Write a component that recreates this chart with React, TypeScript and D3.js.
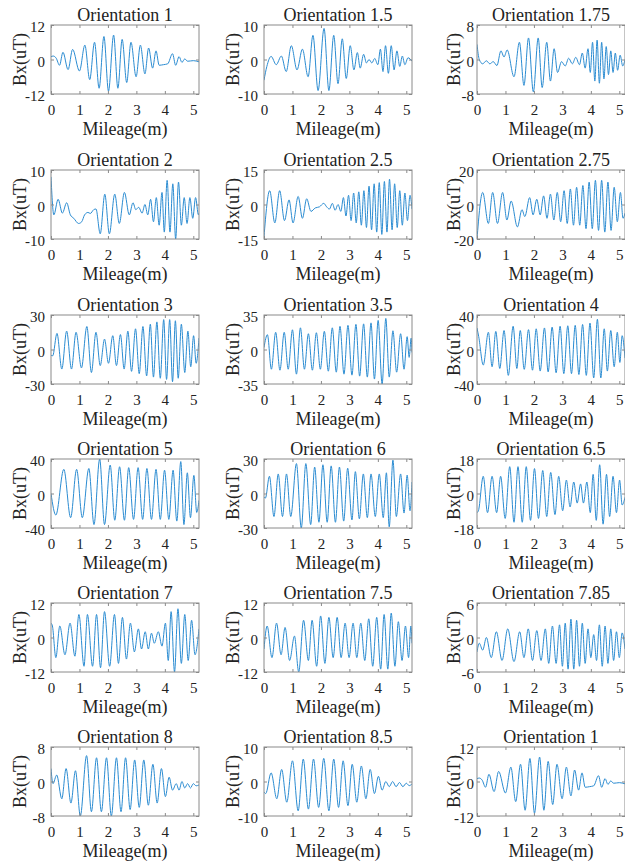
import React, { useEffect, useRef } from 'react';
import * as d3 from 'd3';

// panel titles and y-axis half ranges, row by row
const titles = [
  'Orientation 1', 'Orientation 1.5', 'Orientation 1.75',
  'Orientation 2', 'Orientation 2.5', 'Orientation 2.75',
  'Orientation 3', 'Orientation 3.5', 'Orientation 4',
  'Orientation 5', 'Orientation 6', 'Orientation 6.5',
  'Orientation 7', 'Orientation 7.5', 'Orientation 7.85',
  'Orientation 8', 'Orientation 8.5', 'Orientation 1',
];
const yLimits = [12, 10, 8, 10, 15, 20, 30, 35, 40, 40, 30, 18, 12, 12, 6, 8, 10, 12];
const xTicks = [0, 1, 2, 3, 4, 5];

// Bx(uT) at the peaks and troughs, [mileage, value]
const o1 = [[0,1],[0.08,1.2],[0.18,0.5],[0.3,-2],[0.42,2.5],[0.6,-3.5],[0.76,3.5],[1.0,-4],[1.19,5],[1.36,-7],[1.53,6],[1.69,-10],[1.86,8],[2.02,-11],[2.2,8.5],[2.35,-10],[2.5,7],[2.66,-8],[2.81,6],[2.99,-6],[3.14,5],[3.3,-5],[3.43,4],[3.57,-3],[3.69,3],[3.8,-2],[3.95,-1.8],[4.1,-1.5],[4.27,2],[4.38,-2],[4.5,1],[4.6,-1],[4.7,0.2],[4.8,-0.6],[5.0,-0.4],[5.2,-0.8]];
const o15 = [[0,-6],[0.1,-2],[0.25,0.9],[0.43,-1.5],[0.61,1],[0.78,-3.5],[0.96,4],[1.16,-3],[1.35,3],[1.55,-5],[1.72,7],[1.9,-9],[2.11,9],[2.28,-9],[2.45,7],[2.6,-7],[2.75,6],[2.89,-5.5],[3.03,4],[3.16,-3],[3.28,2],[3.38,-2.5],[3.5,1.5],[3.6,-1],[3.69,0],[3.79,-1],[3.89,0.3],[4.0,-1.5],[4.09,3],[4.18,-3.5],[4.27,4],[4.37,-4],[4.47,4],[4.57,-3],[4.67,2.5],[4.77,-2],[4.86,1],[4.95,-1.5],[5.06,0.5],[5.2,-0.5]];
const o175 = [[0,3.5],[0.08,0],[0.2,-1],[0.33,-0.3],[0.45,-1],[0.57,-0.5],[0.7,-1.4],[0.84,2],[0.95,0.6],[1.06,2.2],[1.3,-4],[1.49,4],[1.65,-6],[1.81,5],[1.98,-7.5],[2.15,5],[2.29,-6.5],[2.45,4],[2.58,-5],[2.71,2.5],[2.83,-3],[2.97,-0.5],[3.1,-1.5],[3.22,0.3],[3.35,-1],[3.47,0.5],[3.6,-1.2],[3.7,1.5],[3.8,-2],[3.9,2.5],[3.98,-3],[4.06,4],[4.14,-5],[4.22,4.5],[4.3,-5.5],[4.38,4],[4.46,-4.5],[4.54,3],[4.62,-3.5],[4.7,2],[4.78,-3],[4.86,1.5],[4.94,-2.5],[5.03,1],[5.12,-1.5],[5.2,0]];
const o2 = [[0,8],[0.1,-3],[0.25,1.5],[0.4,-2.5],[0.55,0.5],[0.68,-3],[0.8,-4],[0.97,-5.5],[1.08,-5],[1.18,-3],[1.3,-2.3],[1.38,-2.6],[1.5,-1.5],[1.58,-1.3],[1.73,-8.5],[1.89,3],[2.05,-8.5],[2.24,3],[2.4,-5.5],[2.58,3.5],[2.75,-3],[2.88,0.5],[2.98,-1.5],[3.08,-0.8],[3.2,-2.5],[3.3,0],[3.4,-3],[3.5,1.5],[3.6,-5],[3.7,2],[3.8,-6],[3.9,3.5],[3.98,-8],[4.08,7],[4.18,-8],[4.28,6],[4.38,-10],[4.48,6.5],[4.58,-6],[4.68,2],[4.78,-5.5],[4.88,2],[4.98,-4],[5.08,2],[5.18,-3],[5.2,-2.5]];
const o25 = [[0,-14],[0.2,6],[0.38,-8],[0.55,6],[0.72,-7],[0.88,2],[1.02,-8],[1.2,3.5],[1.35,-6],[1.5,2.5],[1.65,-3],[1.8,-1.5],[1.95,-1],[2.1,0.5],[2.2,-1],[2.3,-2],[2.4,0.5],[2.5,-2.5],[2.6,0],[2.7,-3],[2.79,3],[2.88,-5],[2.97,4],[3.06,-7],[3.15,5],[3.24,-8],[3.33,5.5],[3.42,-9],[3.51,6],[3.6,-10],[3.69,8],[3.78,-11],[3.87,9],[3.96,-12],[4.05,9.5],[4.14,-13],[4.23,10],[4.32,-12],[4.41,11],[4.5,-11],[4.59,9],[4.68,-10],[4.77,6],[4.86,-9],[4.95,5],[5.04,-7],[5.13,4],[5.2,-2]];
const o275 = [[0,-20],[0.2,7],[0.4,-11],[0.55,7],[0.72,-11],[0.9,7],[1.05,-9],[1.2,2],[1.42,-13],[1.58,-3],[1.68,-7],[1.85,4],[1.97,-6],[2.1,3],[2.22,-6],[2.34,5],[2.46,-8],[2.58,6],[2.7,-9],[2.82,7],[2.94,-10],[3.06,8],[3.17,-11],[3.28,9],[3.39,-12],[3.5,10],[3.61,-12],[3.72,11],[3.83,-14],[3.94,13],[4.05,-14],[4.16,14],[4.27,-15],[4.38,14],[4.49,-16],[4.6,13],[4.71,-15],[4.82,10],[4.93,-10],[5.04,7],[5.13,-8],[5.2,-5]];
const o3 = [[0,-5],[0.06,-5.5],[0.21,14],[0.38,-17],[0.55,16],[0.72,-17],[0.88,15],[1.07,-16],[1.26,20],[1.42,-20],[1.58,15],[1.73,-14],[1.88,9],[2.02,-12],[2.17,12],[2.3,-14],[2.44,13],[2.57,-17],[2.7,16],[2.83,-19],[2.97,18],[3.1,-21],[3.23,20],[3.36,-23],[3.49,22],[3.6,-24],[3.72,24],[3.84,-25],[3.96,26],[4.06,-26],[4.17,26],[4.27,-28],[4.37,25],[4.47,-25],[4.58,22],[4.7,-20],[4.81,16],[4.91,-15],[5.01,12],[5.1,-12],[5.2,10]];
const o35 = [[0,2],[0.12,15],[0.26,-20],[0.41,17.5],[0.56,-21],[0.71,17.5],[0.85,-20],[1.0,20],[1.14,-25],[1.28,22],[1.42,-20],[1.56,16],[1.7,-21],[1.84,17],[1.98,-20],[2.12,18.5],[2.26,-22],[2.4,22],[2.54,-23],[2.67,23.5],[2.81,-25],[2.95,24.5],[3.09,-26],[3.23,25.5],[3.36,-27],[3.5,26],[3.63,-28],[3.76,27],[3.88,-30],[4.01,29.5],[4.15,-35],[4.28,31.5],[4.4,-28],[4.53,19],[4.66,-23],[4.8,16],[4.92,-20],[5.03,13],[5.1,-8],[5.17,11.5],[5.2,-3]];
const o4 = [[0,25],[0.06,15],[0.22,-18],[0.4,20],[0.53,-20],[0.66,21],[0.8,-22],[0.95,22],[1.1,-30],[1.27,27],[1.4,-22],[1.52,22],[1.66,-23],[1.81,23],[1.95,-24],[2.08,24],[2.22,-25],[2.37,25],[2.5,-26],[2.64,26],[2.78,-27],[2.92,27],[3.05,-28],[3.19,27.5],[3.32,-28],[3.45,28],[3.58,-29],[3.71,29],[3.84,-30],[3.97,30.7],[4.1,-33],[4.23,35],[4.35,-33],[4.47,24],[4.58,-25],[4.7,22],[4.82,-20],[4.93,20],[5.02,-15],[5.1,16],[5.2,-10]];
const o5 = [[0,0],[0.17,-25],[0.45,28],[0.69,-28],[0.9,28],[1.1,-28],[1.33,29],[1.51,-36],[1.71,40],[1.88,-36],[2.08,33],[2.24,-31],[2.41,31],[2.58,-31],[2.73,30],[2.9,-30],[3.06,30],[3.22,-30],[3.37,29],[3.53,-30],[3.69,28],[3.84,-30],[3.99,27],[4.14,-30],[4.29,27],[4.42,-32],[4.56,37],[4.67,-36],[4.79,24],[4.9,-28],[5.02,21],[5.12,-22],[5.2,-8]];
const o6 = [[0,-3],[0.05,-4],[0.19,15],[0.35,-20],[0.5,17],[0.65,-20],[0.79,17],[0.94,-20],[1.14,26],[1.31,-30],[1.47,26],[1.64,-27],[1.78,23],[1.93,-25],[2.07,25],[2.22,-25],[2.36,24],[2.51,-25],[2.65,23],[2.8,-24],[2.94,22],[3.09,-23],[3.21,19],[3.35,-22],[3.49,17],[3.63,-21],[3.76,17],[3.91,-20],[4.05,17],[4.19,-21],[4.3,18],[4.4,-29],[4.53,29],[4.65,-20],[4.8,17],[4.92,-17],[5.03,16],[5.13,-15],[5.2,10]];
const o65 = [[0,-10],[0.05,-9],[0.22,9],[0.37,-10],[0.53,9],[0.69,-10],[0.83,9],[0.99,-13],[1.15,14],[1.3,-15],[1.44,14],[1.59,-15],[1.73,14],[1.88,-14],[2.02,13],[2.16,-13],[2.31,12],[2.45,-12],[2.59,11],[2.74,-11],[2.87,9],[3.01,-9],[3.14,7],[3.27,-7],[3.4,6],[3.52,-5],[3.64,5],[3.74,-5],[3.86,6],[3.98,-10],[4.08,10],[4.19,-14],[4.31,15],[4.43,-16],[4.55,10],[4.66,-12],[4.78,9],[4.9,-10],[5.01,7],[5.1,-6],[5.2,-2]];
const o7 = [[0,5],[0.05,4],[0.17,-7],[0.31,4],[0.49,-6],[0.67,5],[0.84,-6.5],[0.98,8],[1.16,-10],[1.28,8],[1.46,-10],[1.6,8],[1.74,-10.5],[1.88,9],[2.06,-10],[2.23,8],[2.37,-9],[2.51,7],[2.65,-7.5],[2.79,5],[2.93,-5],[3.07,3],[3.18,-4],[3.31,2],[3.42,-4],[3.53,1.5],[3.63,-2],[3.77,2],[3.9,-3],[4.02,5],[4.12,-8],[4.22,9],[4.34,-12],[4.46,10],[4.58,-9],[4.7,8],[4.82,-8],[4.94,6],[5.06,-6],[5.2,3]];
const o75 = [[0,-4],[0.11,4],[0.28,-7],[0.44,5],[0.6,-6],[0.74,3.5],[0.9,-8],[1.07,0.5],[1.22,-12],[1.39,6],[1.56,-8],[1.69,6],[1.85,-10],[1.99,7.5],[2.14,-9],[2.28,7],[2.43,-7],[2.57,7],[2.71,-7],[2.85,5],[2.99,-7],[3.13,5],[3.26,-7],[3.4,5],[3.54,-8],[3.68,6.5],[3.82,-10],[3.96,7],[4.1,-11],[4.22,8],[4.35,-11],[4.47,8.5],[4.6,-10],[4.72,5.5],[4.85,-8],[4.97,4],[5.08,-7],[5.16,4],[5.2,-2]];
const o785 = [[0,-2.5],[0.08,-1],[0.2,-2.2],[0.33,0],[0.5,-3.5],[0.68,1],[0.88,-4],[1.08,1.5],[1.3,-4.2],[1.5,1],[1.65,-3.5],[1.8,1.5],[1.95,-4],[2.1,1.2],[2.25,-4],[2.4,1.5],[2.52,-4.5],[2.65,2],[2.78,-4.5],[2.9,2.2],[3.0,-5],[3.1,2.5],[3.2,-5.5],[3.3,3.2],[3.4,-5.5],[3.5,3],[3.6,-5],[3.7,2.5],[3.8,-4.5],[3.9,1.5],[4.0,-3.5],[4.1,0.5],[4.2,-4],[4.3,2.2],[4.4,-5],[4.5,2],[4.6,-4.5],[4.7,1.5],[4.8,-4],[4.9,1],[5.0,-3.5],[5.1,0.8],[5.2,-2]];
const o8 = [[0,3],[0.07,-0.5],[0.2,1.5],[0.38,-4],[0.53,3],[0.7,-5],[0.86,2.5],[1.03,-8],[1.25,6],[1.42,-7],[1.6,5.5],[1.77,-7],[1.95,5.5],[2.12,-8],[2.3,5.5],[2.46,-7],[2.62,5.5],[2.78,-6.5],[2.94,5],[3.1,-6],[3.26,5],[3.42,-5.5],[3.58,4],[3.73,-5],[3.88,3],[4.02,-3.5],[4.15,1],[4.27,-2],[4.4,-0.5],[4.5,-2],[4.6,0],[4.7,-1.5],[4.8,-0.5],[4.9,-1.5],[5.0,-0.5],[5.1,-1],[5.2,-0.8]];
const o85 = [[0,-3],[0.06,-3.5],[0.25,2.5],[0.45,-5],[0.62,3.5],[0.8,-6],[1.0,6],[1.2,-8.5],[1.38,6.5],[1.56,-8],[1.74,6.5],[1.92,-7.5],[2.1,6.7],[2.28,-8.5],[2.45,6.5],[2.62,-7.5],[2.78,6],[2.95,-7],[3.1,5],[3.26,-6],[3.42,4.5],[3.58,-5],[3.73,3.5],[3.88,-3.5],[4.02,1.5],[4.15,-2.5],[4.28,0],[4.4,-1.5],[4.52,0],[4.64,-1.5],[4.76,-0.3],[4.88,-1.5],[5.0,-0.5],[5.1,-1.2],[5.2,-0.7]];

const series = [o1, o15, o175, o2, o25, o275, o3, o35, o4, o5, o6, o65, o7, o75, o785, o8, o85, o1];

const colLeft = [51, 264, 477];
const rowTop = [25, 170, 315, 459, 603, 747];
const plotW = 148;
const plotH = 69;
const font = '"Liberation Serif", "Times New Roman", serif';

function App() {
  const ref = useRef(null);

  useEffect(() => {
    const svg = d3.select(ref.current);
    svg.selectAll('*').remove();

    titles.forEach((title, i) => {
      const col = i % 3;
      const row = Math.floor(i / 3);
      const lim = yLimits[i];

      const x = d3.scaleLinear().domain([0, 5.2]).range([0, plotW]);
      const y = d3.scaleLinear().domain([-lim, lim]).range([plotH, 0]);

      const g = svg.append('g').attr('transform', `translate(${colLeft[col]},${rowTop[row]})`);

      g.append('clipPath').attr('id', 'clip' + i)
        .append('rect').attr('width', plotW).attr('height', plotH);

      const line = d3.line()
        .x(d => x(d[0]))
        .y(d => y(d[1]))
        .curve(d3.curveMonotoneX);

      g.append('path')
        .datum(series[i])
        .attr('d', line)
        .attr('fill', 'none')
        .attr('stroke', '#2b8cd2')
        .attr('stroke-width', 1)
        .attr('clip-path', `url(#clip${i})`);

      const fmt = d => String(d);
      const padLeft = col === 2 ? 3 : 6;

      const bottom = g.append('g').attr('transform', `translate(0,${plotH})`)
        .call(d3.axisBottom(x).tickValues(xTicks).tickSize(-3).tickSizeOuter(0).tickPadding(10).tickFormat(fmt));
      const left = g.append('g')
        .call(d3.axisLeft(y).tickValues([-lim, 0, lim]).tickSize(-3).tickSizeOuter(0).tickPadding(padLeft).tickFormat(fmt));
      const topAx = g.append('g')
        .call(d3.axisTop(x).tickValues(xTicks).tickSize(-3).tickSizeOuter(0).tickFormat(() => ''));
      const rightAx = g.append('g').attr('transform', `translate(${plotW},0)`)
        .call(d3.axisRight(y).tickValues([-lim, 0, lim]).tickSize(-3).tickSizeOuter(0).tickFormat(() => ''));

      [bottom, left, topAx, rightAx].forEach(a => {
        a.select('.domain').remove();
        a.selectAll('line').attr('stroke', '#8a8a8a');
        a.selectAll('text').attr('font-family', font).attr('font-size', 15).attr('fill', '#222');
      });
      left.selectAll('text').attr('dy', '0.45em');

      g.append('rect')
        .attr('x', 0).attr('y', 0)
        .attr('width', plotW).attr('height', plotH)
        .attr('fill', 'none')
        .attr('stroke', '#8a8a8a')
        .attr('stroke-width', 1);

      g.append('text')
        .attr('x', plotW / 2).attr('y', -4)
        .attr('text-anchor', 'middle')
        .attr('font-family', font).attr('font-size', 18).attr('fill', '#222')
        .text(title);

      g.append('text')
        .attr('x', plotW / 2).attr('y', plotH + 41)
        .attr('text-anchor', 'middle')
        .attr('font-family', font).attr('font-size', 18).attr('fill', '#222')
        .text('Mileage(m)');

      const yl = col === 2 ? -23 : -31;
      g.append('text')
        .attr('transform', `translate(${yl},${plotH / 2}) rotate(-90)`)
        .attr('text-anchor', 'middle')
        .attr('dy', '0.35em')
        .attr('font-family', font).attr('font-size', 18).attr('fill', '#222')
        .text('Bx(uT)');
    });
  }, []);

  return (
    <svg ref={ref} width={625} height={867}
      style={{ position: 'absolute', left: 0, top: 0, background: '#fff' }} />
  );
}

export default App;
